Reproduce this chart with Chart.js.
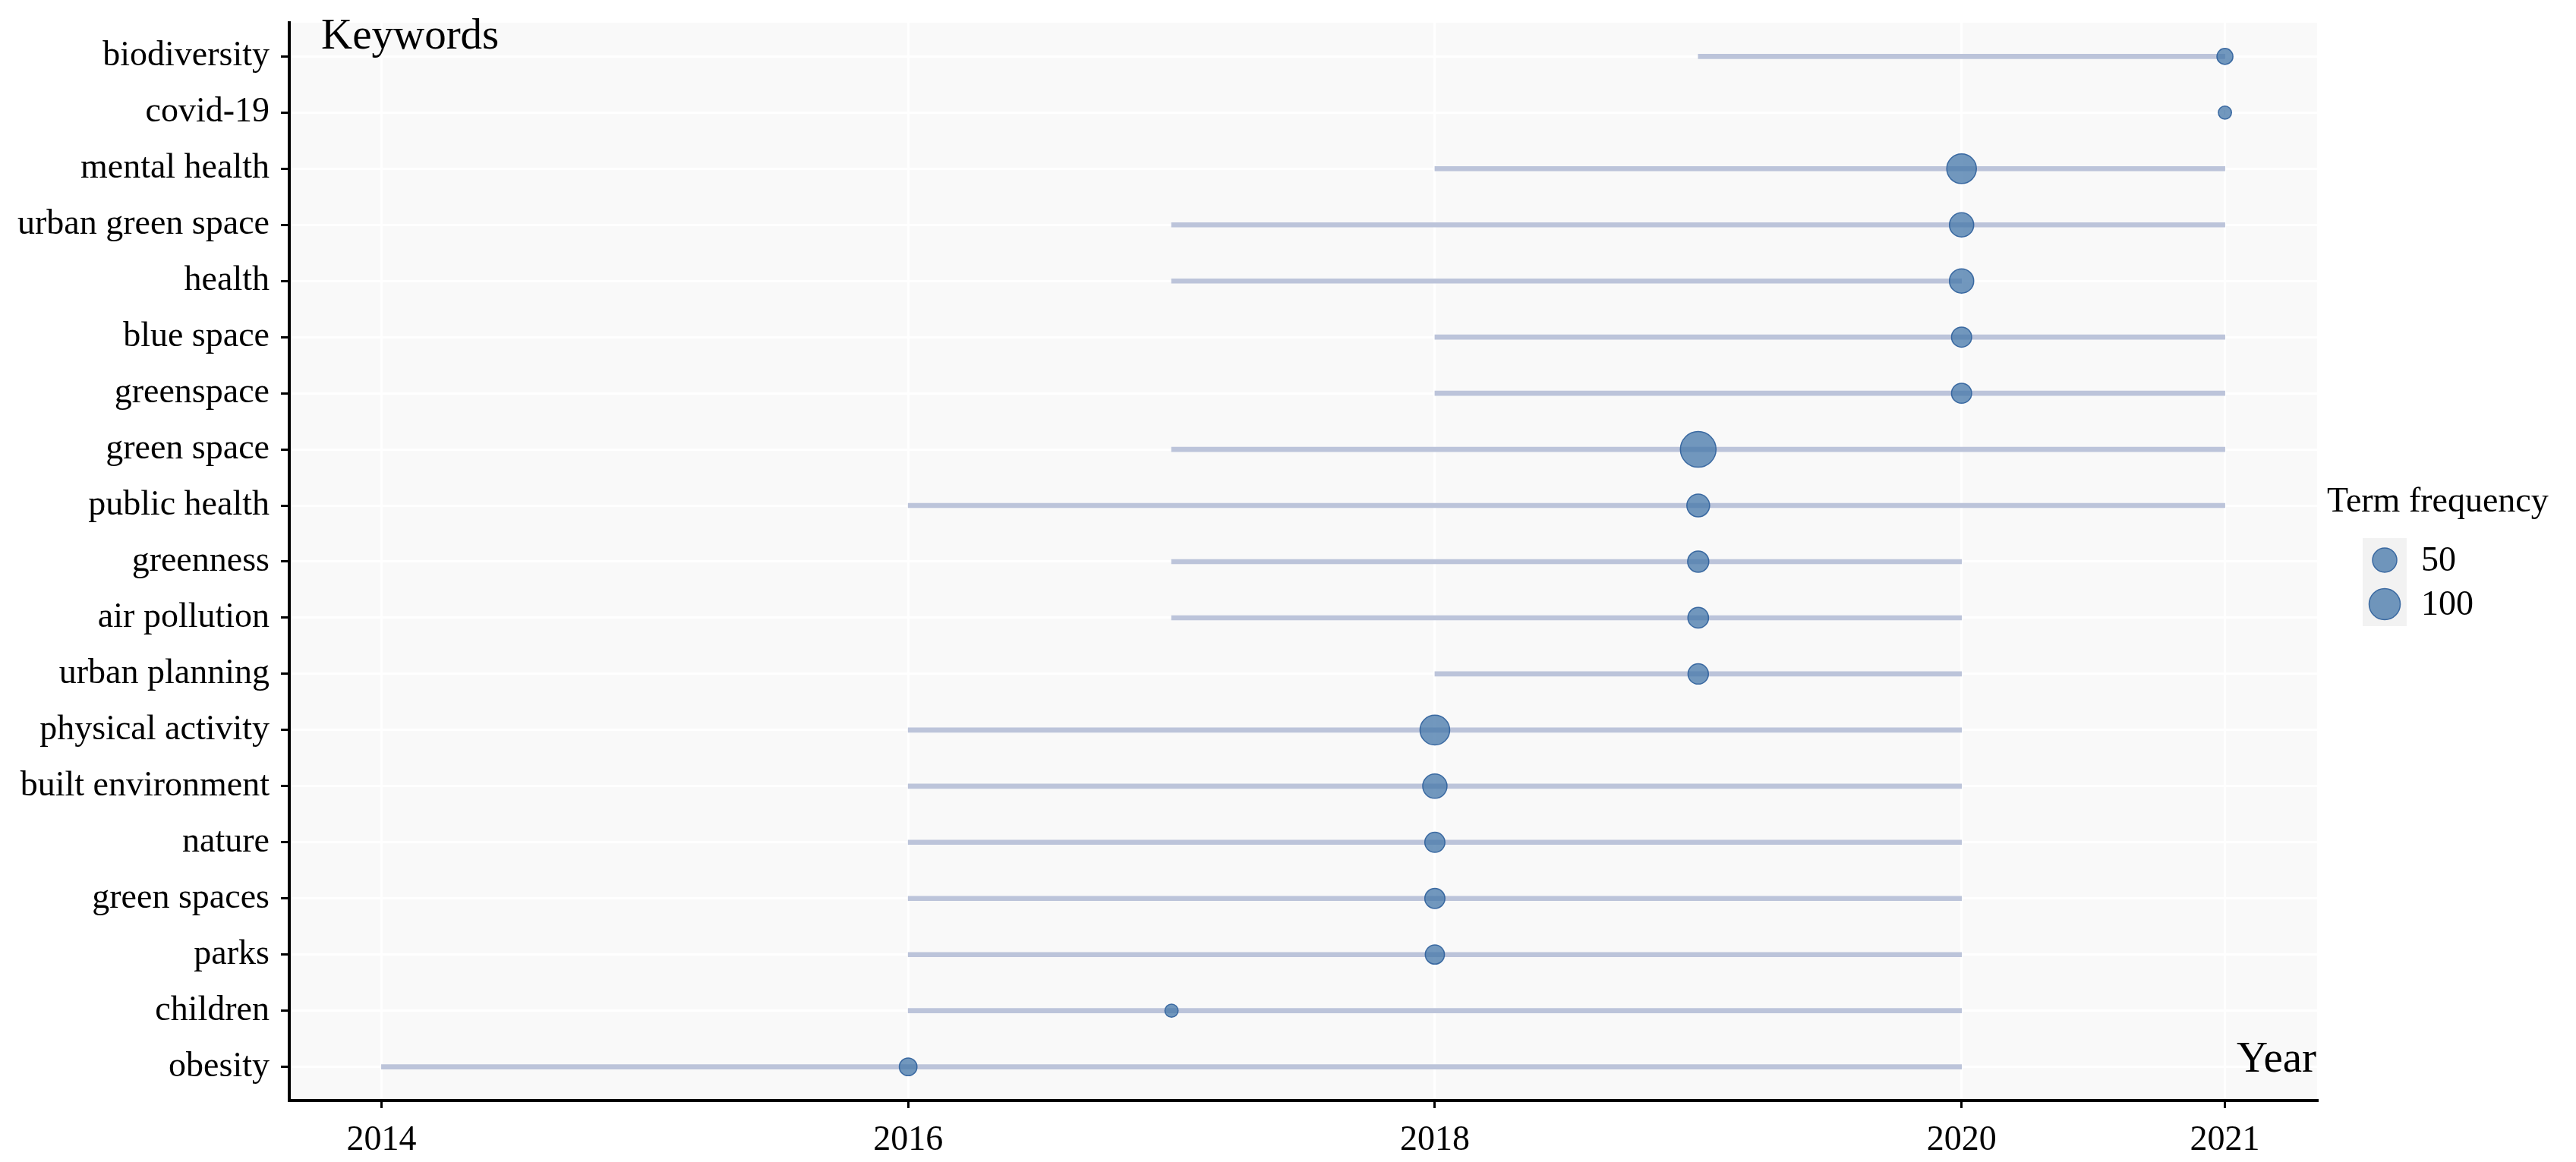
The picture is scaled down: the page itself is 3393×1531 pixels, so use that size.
<!DOCTYPE html>
<html>
<head>
<meta charset="utf-8">
<title>Keyword timeline</title>
<script src="https://cdn.jsdelivr.net/npm/chart.js@4.4.1/dist/chart.umd.min.js"></script>
<style>
    body { margin: 0; background: #fff; }
    #wrap { width: 3393px; height: 1531px; position: relative; }
</style>
</head>
<body>
<div id="wrap"><canvas id="keyword-chart"></canvas></div>
<script>
// keywords, top to bottom
var keywords = ['biodiversity', 'covid-19', 'mental health', 'urban green space', 'health',
    'blue space', 'greenspace', 'green space', 'public health', 'greenness', 'air pollution',
    'urban planning', 'physical activity', 'built environment', 'nature', 'green spaces',
    'parks', 'children', 'obesity'];
var yearStart = [2019, 2021, 2018, 2017, 2017, 2018, 2018, 2017, 2016, 2017, 2017, 2018, 2016, 2016, 2016, 2016, 2016, 2016, 2014];
var yearEnd = [2021, 2021, 2021, 2021, 2020, 2021, 2021, 2021, 2021, 2020, 2020, 2020, 2020, 2020, 2020, 2020, 2020, 2020, 2020];
var yearPeak = [2021, 2021, 2020, 2020, 2020, 2020, 2020, 2019, 2019, 2019, 2019, 2019, 2018, 2018, 2018, 2018, 2018, 2017, 2016];
var termFreq = [21, 19, 87, 50, 50, 31, 31, 146, 42, 35, 33, 32, 87, 50, 31, 31, 28, 19, 24];
var yearTicks = [2014, 2016, 2018, 2020, 2021];
var legendFreq = [50, 100];

var SERIF = "'Liberation Serif', 'Times New Roman', serif";
var FREQ_MIN = 19, FREQ_MAX = 146, R_MIN = 8.7, R_MAX = 23.5;

// area style size scale
function freqRadius(v) {
    var t = Math.max(0, (v - FREQ_MIN) / (FREQ_MAX - FREQ_MIN));
    return R_MIN + (R_MAX - R_MIN) * Math.sqrt(t);
}

var bubbles = [];
var spans = [];
keywords.forEach(function (k, i) {
    bubbles.push({ x: yearPeak[i], y: i, r: freqRadius(termFreq[i]) });
    spans.push({ y: i, x: [yearStart[i], yearEnd[i]] });
});

var bubbleFill = 'rgba(70, 120, 170, 0.76)';
var bubbleLine = 'rgba(45, 95, 155, 0.9)';

var panelBg = {
    id: 'panelBg',
    beforeDraw: function (chart) {
        var a = chart.chartArea, ctx = chart.ctx;
        ctx.save();
        ctx.fillStyle = '#f9f9f9';
        ctx.fillRect(a.left, a.top, a.right - a.left, a.bottom - a.top);
        ctx.restore();
    }
};

var extraText = {
    id: 'extraText',
    afterDraw: function (chart) {
        var a = chart.chartArea, ctx = chart.ctx;
        ctx.save();
        ctx.fillStyle = '#000';
        ctx.font = '57px ' + SERIF;
        ctx.textBaseline = 'alphabetic';
        ctx.textAlign = 'left';
        ctx.fillText('Keywords', a.left + 42, a.top + 34);
        ctx.textAlign = 'right';
        ctx.fillText('Year', a.right - 1, a.bottom - 38);

        // size legend
        var lx = a.right + 13;
        ctx.textAlign = 'left';
        ctx.font = '46px ' + SERIF;
        ctx.fillText('Term frequency', lx, 674);
        ctx.fillStyle = '#f2f2f2';
        ctx.fillRect(lx + 47, 709, 58, 116);
        var cy = [738, 796];
        legendFreq.forEach(function (v, j) {
            ctx.beginPath();
            ctx.arc(lx + 76, cy[j], freqRadius(v), 0, Math.PI * 2);
            ctx.fillStyle = bubbleFill;
            ctx.fill();
            ctx.lineWidth = 1.5;
            ctx.strokeStyle = bubbleLine;
            ctx.stroke();
            ctx.fillStyle = '#000';
            ctx.textBaseline = 'middle';
            ctx.fillText(String(v), lx + 124, cy[j] + 2);
        });
        ctx.restore();
    }
};

var ctx = document.getElementById('keyword-chart').getContext('2d');
var chart = new Chart(ctx, {
    type: 'bar',
    data: {
        datasets: [
            {
                type: 'bubble',
                label: 'Term frequency',
                data: bubbles,
                backgroundColor: bubbleFill,
                borderColor: bubbleLine,
                borderWidth: 1.5
            },
            {
                type: 'bar',
                label: 'span',
                indexAxis: 'y',
                data: spans,
                backgroundColor: '#bcc4da',
                borderWidth: 0,
                barThickness: 6,
                borderSkipped: false
            }
        ]
    },
    options: {
        responsive: true,
        maintainAspectRatio: false,
        animation: false,
        layout: { padding: { top: 30, right: 341, left: 0, bottom: 0 } },
        plugins: {
            legend: { display: false },
            tooltip: { enabled: false }
        },
        scales: {
            x: {
                type: 'linear',
                offset: false,
                min: 2013.65,
                max: 2021.35,
                afterBuildTicks: function (scale) {
                    scale.ticks = yearTicks.map(function (v) { return { value: v }; });
                },
                afterFit: function (scale) {
                    scale.height = 81;
                    scale.paddingLeft = 0;
                    scale.paddingRight = 0;
                },
                ticks: {
                    autoSkip: false,
                    maxRotation: 0,
                    padding: 15,
                    color: '#000',
                    font: { family: SERIF, size: 46 },
                    callback: function (v) { return String(v); }
                },
                grid: {
                    offset: false,
                    color: '#ffffff',
                    lineWidth: 3,
                    tickColor: '#000',
                    tickLength: 10,
                    tickWidth: 3
                },
                border: { display: true, color: '#000', width: 4 }
            },
            y: {
                type: 'linear',
                offset: false,
                reverse: true,
                min: -0.6,
                max: keywords.length - 0.4,
                afterBuildTicks: function (scale) {
                    scale.ticks = keywords.map(function (k, i) { return { value: i }; });
                },
                afterFit: function (scale) {
                    scale.width = 381;
                    scale.paddingTop = 0;
                    scale.paddingBottom = 0;
                },
                ticks: {
                    autoSkip: false,
                    padding: 15,
                    color: '#000',
                    font: { family: SERIF, size: 46 },
                    callback: function (v) { return keywords[v]; }
                },
                grid: {
                    offset: false,
                    color: '#ffffff',
                    lineWidth: 3,
                    tickColor: '#000',
                    tickLength: 11,
                    tickWidth: 3
                },
                border: { display: true, color: '#000', width: 4 }
            }
        }
    },
    plugins: [panelBg, extraText]
});
</script>
</body>
</html>
